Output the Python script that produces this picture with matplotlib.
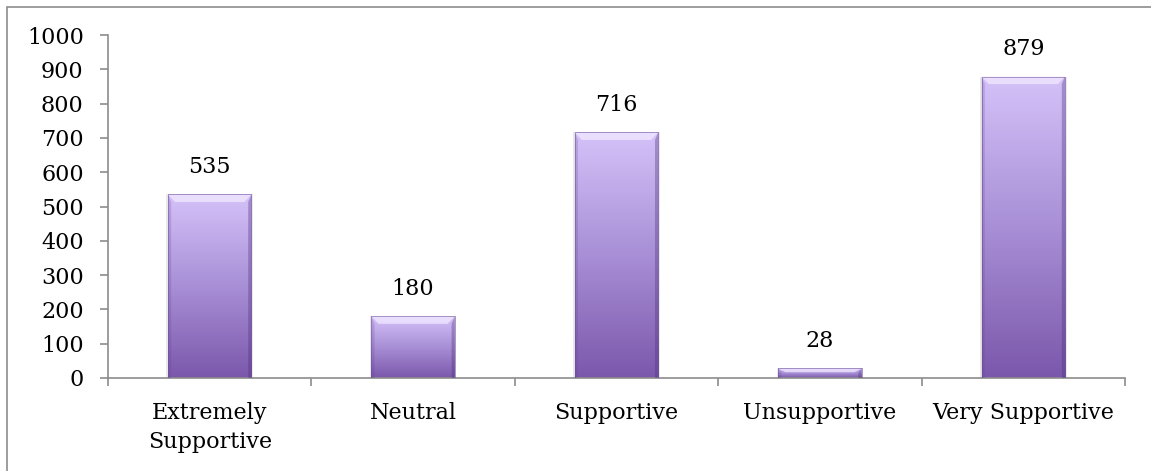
import matplotlib
matplotlib.use("Agg")
import matplotlib.pyplot as plt
import numpy as np
from matplotlib.colors import LinearSegmentedColormap
from matplotlib.patches import Rectangle, Polygon

categories = ["Extremely\nSupportive", "Neutral", "Supportive", "Unsupportive", "Very Supportive"]
values = [535, 180, 716, 28, 879]
yticks = [0, 100, 200, 300, 400, 500, 600, 700, 800, 900, 1000]

plt.rcParams['font.family'] = ['DejaVu Serif']
FS = 16

fig = plt.figure(figsize=(11.51, 4.71), dpi=100)
ax = fig.add_axes([108/1151, 1-378/471, (1125-108)/1151, (378-35)/471])

# figure frame (top/left visible only)
fig.patches.append(Rectangle((7/1151, -0.1), 1.2, 1-7/471+0.1, transform=fig.transFigure,
                             fill=False, edgecolor='#8c8c8c', linewidth=1.2))

cmap = LinearSegmentedColormap.from_list('p', ['#7b57ab', '#a88fd6', '#d5c2f9'])
width = 0.41
x = np.arange(len(values))
ax.set_xlim(-0.5, len(values) - 0.5)
ax.set_ylim(0, 1000)

grad = np.linspace(0, 1, 256).reshape(-1, 1)
for xi, v in zip(x, values):
    x0, x1 = xi - width/2, xi + width/2
    ax.add_patch(Rectangle((x0 - 0.008, -3), width + 0.016, v + 3, facecolor='#d0d0d0', alpha=0.45,
                           edgecolor='none', zorder=1))
    im = ax.imshow(grad, extent=[x0, x1, 0, v], origin='lower', cmap=cmap,
                   aspect='auto', zorder=2, vmin=0, vmax=1)
    clip = Rectangle((x0, 0), width, v, transform=ax.transData)
    im.set_clip_path(clip)
    bx = 0.035
    by = min(22, v * 0.4)
    ax.add_patch(Polygon([(x0, v), (x1, v), (x1 - bx, v - by), (x0 + bx, v - by)],
                         closed=True, facecolor='#f1e9ff', alpha=0.75, edgecolor='none', zorder=3))
    ax.add_patch(Polygon([(x0, 0), (x0, v), (x0 + bx*0.45, v - by), (x0 + bx*0.45, 0)],
                         closed=True, facecolor='#5f4090', alpha=0.22, edgecolor='none', zorder=3))
    ax.add_patch(Polygon([(x1, 0), (x1, v), (x1 - bx*0.45, v - by), (x1 - bx*0.45, 0)],
                         closed=True, facecolor='#4a2f78', alpha=0.35, edgecolor='none', zorder=3))
    ax.add_patch(Rectangle((x0, 0), width, v, fill=False, edgecolor='#6a4c94',
                           linewidth=0.6, alpha=0.6, zorder=4))
    ax.text(xi, v + 48, str(v), ha='center', va='bottom', fontsize=FS, color='black')

ax.set_yticks(yticks)
ax.set_yticklabels([str(t) for t in yticks], fontsize=FS)
ax.set_xticks(x)
ax.set_xticklabels(categories, fontsize=FS, linespacing=1.45)
ax.set_xticks(np.arange(-0.5, len(values)), minor=True)
ax.tick_params(axis='x', which='major', length=0, pad=17)
ax.tick_params(axis='x', which='minor', length=5.5, color='#8c8c8c', width=1.2, direction='out')
ax.tick_params(axis='y', length=5.5, color='#8c8c8c', width=1.2, direction='out', pad=12)

for s in ['top', 'right']:
    ax.spines[s].set_visible(False)
for s in ['left', 'bottom']:
    ax.spines[s].set_color('#8c8c8c')
    ax.spines[s].set_linewidth(1.2)

fig.savefig('out.png', dpi=100)
